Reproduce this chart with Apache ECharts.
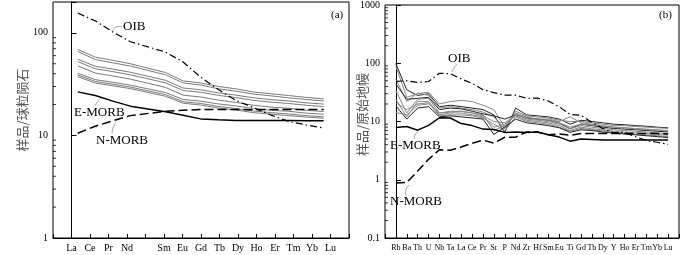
<!DOCTYPE html>
<html>
<head>
<meta charset="utf-8">
<script src="https://cdn.jsdelivr.net/npm/echarts@6/dist/echarts.min.js"></script>
<style>
html, body { margin: 0; padding: 0; background: #fff; }
#main { width: 700px; height: 255px; }
</style>
</head>
<body>
<div id="main"></div>
<script>
// 横轴元素
var reeLabels = ['La', 'Ce', 'Pr', 'Nd', '', 'Sm', 'Eu', 'Gd', 'Tb', 'Dy', 'Ho', 'Er', 'Tm', 'Yb', 'Lu'];
var spiderLabels = ['Rb', 'Ba', 'Th', 'U', 'Nb', 'Ta', 'La', 'Ce', 'Pr', 'Sr', 'P', 'Nd', 'Zr', 'Hf', 'Sm',
    'Eu', 'Ti', 'Gd', 'Tb', 'Dy', 'Y', 'Ho', 'Er', 'Tm', 'Yb', 'Lu'];
var reeTickValues = [1, 10, 100];
var spiderTickValues = [0.1, 1, 10, 100, 1000];

// (a) 球粒陨石标准化, Pm 无数据
var reeSample1 = [69, 58, 54, 50, null, 41, 34, 32.5, 30, 28.5, 26.5, 25.5, 24.5, 23.5, 22.7];
var reeSample2 = [65.7, 55, 51, 47.5, null, 39, 32.5, 31, 28.5, 27, 25.3, 24.3, 23.3, 22.4, 21.7];
var reeSample3 = [55.4, 47.3, 44.3, 41.3, null, 34.5, 29, 27.9, 26, 24.7, 23.3, 22.3, 21.7, 20.8, 20.2];
var reeSample4 = [52.5, 44.7, 41.9, 39, null, 32.6, 27.4, 26.4, 24.6, 23.4, 22, 21.1, 20.5, 19.7, 19.1];
var reeSample5 = [47.6, 40.6, 38, 35.4, null, 29.4, 24.7, 23.7, 22.1, 21, 19.7, 18.9, 18.4, 17.6, 17.1];
var reeSample6 = [40.4, 35, 33, 30.9, null, 26.2, 22.4, 21.6, 20.3, 19.4, 18.3, 17.6, 17.2, 16.5, 16.1];
var reeSample7 = [38.9, 33.6, 31.6, 29.6, null, 25, 21.3, 20.5, 19.2, 18.3, 17.3, 16.7, 16.2, 15.6, 15.2];
var reeSample8 = [37.5, 32.4, 30.5, 28.6, null, 24.1, 20.6, 19.8, 18.5, 17.7, 16.7, 16.1, 15.6, 15.1, 14.7];
var reeOIB = [156, 131, 102, 82, null, 65, 52, 37, 28, 22, 18.7, 15.8, 13.7, 12.7, 11.8];
var reeEMORB = [26.6, 24.5, 21.6, 19.3, null, 17, 15.7, 14.5, 14.2, 14, 14, 14, 14, 13.9, 13.9];
var reeNMORB = [10.5, 12.3, 13.9, 15.6, null, 17.2, 17.6, 17.9, 17.9, 17.9, 17.8, 17.9, 17.9, 17.9, 17.9];

// (b) 原始地幔标准化
var spiderSample1 = [98, 35, 28, 30, 18, 19, 18, 17, 16, 13, 6.5, 17, 13, 12.5, 12, 11, 9, 10.5, 10, 9.5, 9, 8.8, 8.5, 8.3, 8, 7.8];
var spiderSample2 = [89, 26, 30, 32, 20, 22, 23, 22, 19, 16, 8, 15, 12.5, 12, 11.5, 10.5, 10, 10, 9.5, 9, 8.5, 8.5, 8.2, 8, 7.8, 7.6];
var spiderSample3 = [53, 22, 31, 28, 17, 18, 17, 16, 14.5, 12, 7.5, 14, 12, 11, 11, 10, 12, 9.5, 9, 8.5, 8, 7.8, 7.6, 7.4, 7.2, 7];
var spiderSample4 = [44, 24, 25, 26, 16, 17, 16.5, 15, 13.5, 12.5, 11, 13, 11.5, 11, 10.5, 9.5, 7.5, 9, 8.5, 8, 7.6, 7.4, 7.2, 7, 6.8, 6.6];
var spiderSample5 = [34, 14, 24, 25, 14, 15, 15, 14, 13, 7, 8.5, 13.5, 11, 10.5, 10, 9, 7.5, 8.5, 8, 7.6, 7.2, 7, 6.8, 6.6, 6.4, 6.2];
var spiderSample6 = [24, 12, 22, 22, 13, 14, 14, 13, 12, 8, 9, 12.5, 10.5, 10, 9.5, 8.5, 7, 8, 7.5, 7.2, 6.8, 6.6, 6.4, 6.2, 6, 5.8];
var spiderSample7 = [21, 16, 20, 21, 12.5, 13, 13, 12.5, 11.5, 9, 7, 12, 10, 9.5, 9, 8, 6.8, 7.6, 7.2, 6.9, 6.5, 6.3, 6.1, 5.9, 5.7, 5.5];
var spiderSample8 = [18.6, 11, 17, 18, 12, 12.5, 12, 11.5, 11, 6, 8, 11, 9.5, 9, 8.5, 7.8, 6.5, 7.2, 7, 6.6, 6.3, 6.1, 5.9, 5.7, 5.5, 5.3];
var spiderSample9 = [14.3, 13, 19, 20, 14, 14.5, 15, 14, 12.5, 10, 9.5, 13, 11.5, 11, 10.5, 9.5, 8, 9, 8.7, 8.3, 8, 7.8, 7.5, 7.3, 7.1, 6.9];
var spiderOIB = [48.8, 50, 47, 48.6, 67.3, 65.9, 53.9, 45, 35.1, 31.3, 28.4, 28.4, 25, 25.2, 22.5, 17.9, 13.2, 12.8, 9.7, 7.6, 6.4, 6.5, 5.5, 4.7, 4.4, 4.05];
var spiderEMORB = [7.9, 8.2, 7.1, 8.6, 11.6, 11.5, 9.2, 8.5, 7.4, 7.3, 6.5, 6.6, 6.5, 6.6, 5.9, 5.4, 4.6, 5.0, 4.9, 4.8, 4.8, 4.8, 4.8, 4.8, 4.8, 4.8];
var spiderNMORB = [0.88, 0.90, 1.41, 2.24, 3.27, 3.22, 3.64, 4.23, 4.78, 4.27, 5.37, 5.39, 6.6, 6.6, 5.9, 6.1, 5.8, 6.2, 6.2, 6.2, 6.2, 6.2, 6.2, 6.2, 6.2, 6.1];

var spiderChart = {};
spiderChart.serif = '"Liberation Serif", "Times New Roman", serif';

spiderChart.toPoints = function (arr) {
    var pts = [];
    for (var i = 0; i < arr.length; i++) {
        if (arr[i] != null) {
            pts.push([i, arr[i]]);
        }
    }
    return pts;
};

spiderChart.line = function (name, arr, xIdx, yIdx, color, width, type) {
    return {
        name: name, type: 'line', xAxisIndex: xIdx, yAxisIndex: yIdx,
        data: spiderChart.toPoints(arr),
        symbol: 'none', silent: true, connectNulls: true,
        lineStyle: {color: color, width: width, type: type || 'solid'}
    };
};

// 对数轴的次刻度 2..9
spiderChart.minorTicks = function (xIdx, yIdx, xMin, fromPow, toPow, maxVal) {
    var pts = [];
    for (var p = fromPow; p < toPow; p++) {
        for (var k = 2; k <= 9; k++) {
            var v = k * Math.pow(10, p);
            if (v < maxVal) pts.push([xMin, v]);
        }
    }
    return {
        type: 'scatter', xAxisIndex: xIdx, yAxisIndex: yIdx, data: pts, silent: true, clip: false,
        symbol: 'rect', symbolSize: [3, 1], symbolOffset: [1.5, 0],
        itemStyle: {color: '#000'}, z: 5
    };
};

spiderChart.logLabel = function (v) {
    var l = Math.log(v) / Math.LN10;
    if (Math.abs(l - Math.round(l)) > 1e-6) return '';
    return String(Math.round(v * 10) / 10);
};

spiderChart.yAxis = function (gridIdx, min, max, title, gap, pad) {
    return {
        gridIndex: gridIdx, type: 'log', logBase: 10, min: min, max: max,
        axisLine: {show: true, lineStyle: {color: '#000', width: 1}},
        axisTick: {show: true, inside: true, length: 5, lineStyle: {color: '#000'}},
        splitLine: {show: false},
        axisLabel: {fontFamily: spiderChart.serif, fontSize: 10, color: '#000', margin: 5, formatter: spiderChart.logLabel},
        name: title, nameLocation: 'middle', nameRotate: 90, nameGap: gap, nameMoveOverlap: false,
        nameTextStyle: {fontFamily: '"Noto Sans CJK SC"', fontSize: 13, color: '#555', padding: [0, 0, 0, pad]}
    };
};

spiderChart.xAxis = function (gridIdx, max, labels, fontSize, margin) {
    return {
        gridIndex: gridIdx, type: 'value', min: -1, max: max, interval: 1,
        axisLine: {show: true, lineStyle: {color: '#000', width: 1}},
        axisTick: {show: true, inside: true, length: 4, lineStyle: {color: '#000'}},
        splitLine: {show: false},
        axisLabel: {
            fontFamily: spiderChart.serif, fontSize: fontSize, color: '#000', margin: margin,
            formatter: function (v) { return labels[v] || ''; }
        }
    };
};

spiderChart.text = function (str, x, y, size) {
    return {type: 'text', x: x, y: y, silent: true,
        style: {text: str, font: size + 'px ' + spiderChart.serif, fill: '#000'}};
};

spiderChart.leader = function (pts) {
    return {type: 'polyline', silent: true, shape: {points: pts, smooth: 0.5},
        style: {stroke: '#888', lineWidth: 0.8, fill: null}};
};

spiderChart.render = function () {
    var myChart = echarts.init(document.getElementById('main'), null, {renderer: 'canvas'});
    var gray = '#7a7a7a';
    var series = [];
    var reeSamples = [reeSample1, reeSample2, reeSample3, reeSample4, reeSample5, reeSample6, reeSample7, reeSample8];
    for (var i = 0; i < reeSamples.length; i++) {
        series.push(spiderChart.line('样品' + (i + 1), reeSamples[i], 1, 0, gray, 1));
    }
    series.push(spiderChart.line('E-MORB', reeEMORB, 1, 0, '#000', 1.5));
    series.push(spiderChart.line('N-MORB', reeNMORB, 1, 0, '#000', 1.5, [9, 4]));
    series.push(spiderChart.line('OIB', reeOIB, 1, 0, '#000', 1.2, [7, 3, 1.5, 3]));

    var spiderSamples = [spiderSample1, spiderSample2, spiderSample3, spiderSample4, spiderSample5,
        spiderSample6, spiderSample7, spiderSample8, spiderSample9];
    var spiderColors = ['#222', '#888', '#888', '#222', '#888', '#888', '#888', '#222', '#888'];
    for (var j = 0; j < spiderSamples.length; j++) {
        series.push(spiderChart.line('样品' + (j + 1), spiderSamples[j], 2, 1, spiderColors[j], 1));
    }
    series.push(spiderChart.line('E-MORB', spiderEMORB, 2, 1, '#000', 1.5));
    series.push(spiderChart.line('N-MORB', spiderNMORB, 2, 1, '#000', 1.5, [9, 4]));
    series.push(spiderChart.line('OIB', spiderOIB, 2, 1, '#000', 1.2, [7, 3, 1.5, 3]));

    series.push(spiderChart.minorTicks(0, 0, -1, 0, 3, 200));
    series.push(spiderChart.minorTicks(2, 1, -1, -1, 3, 1000));

    var option = {
        animation: false,
        backgroundColor: '#fff',
        grid: [
            {left: 53, right: 351, top: 2, bottom: 17, show: true, borderColor: '#000', borderWidth: 1},
            {left: 385, right: 21, top: 4, bottom: 17, show: true, borderColor: '#000', borderWidth: 1}
        ],
        xAxis: [
            spiderChart.xAxis(0, 15, reeLabels, 10, 5),
            // 数据点在图中相对刻度略有偏移
            {gridIndex: 0, type: 'value', min: -1.406, max: 15.44, show: false},
            spiderChart.xAxis(1, 26, spiderLabels, 8, 6)
        ],
        yAxis: [
            spiderChart.yAxis(0, 1, 200, '样品/球粒陨石', 24, 20),
            spiderChart.yAxis(1, 0.1, 1000, '样品/原始地幔', 16, 14)
        ],
        series: series,
        graphic: [
            spiderChart.text('OIB', 123, 20, 13),
            spiderChart.text('E-MORB', 74, 106, 13),
            spiderChart.text('N-MORB', 96, 134, 13),
            spiderChart.text('(a)', 331, 10, 11),
            spiderChart.leader([[112, 31], [116, 27], [122, 27]]),
            spiderChart.leader([[95, 106], [98, 101], [102, 97]]),
            spiderChart.leader([[112, 134], [113, 128], [116, 122]]),
            spiderChart.text('OIB', 448, 52, 13),
            spiderChart.text('E-MORB', 390, 139, 13),
            spiderChart.text('N-MORB', 390, 195, 13),
            spiderChart.text('(b)', 659, 10, 11),
            spiderChart.leader([[457, 64], [454, 68], [452, 72]]),
            spiderChart.leader([[414, 139], [415, 135], [418, 131]]),
            spiderChart.leader([[406, 196], [406, 190], [409, 185]])
        ]
    };
    myChart.setOption(option);
};

spiderChart.render();
</script>
</body>
</html>
